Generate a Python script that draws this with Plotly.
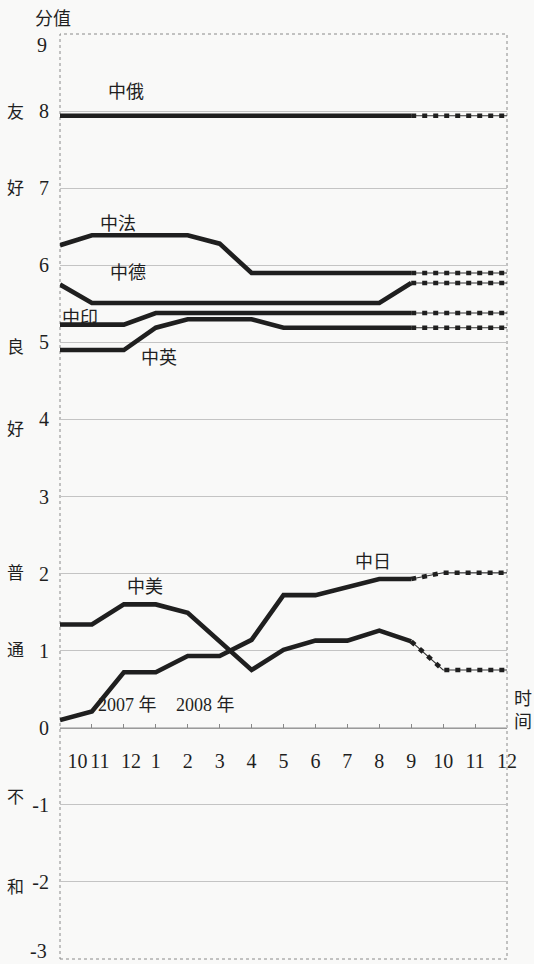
import plotly.graph_objects as go

# ---- data ----
month_labels = ["10", "11", "12", "1", "2", "3", "4", "5", "6", "7", "8", "9", "10", "11", "12"]
month_label_pos = [0.55, 1.25, 2.22, 3, 4, 5, 6, 7, 8, 9, 10, 11, 12, 13, 14]
months_x = list(range(15))
split = 11  # last observed month (2008-9); later months are projected (dashed)

sino_russia = [7.94, 7.94, 7.94, 7.94, 7.94, 7.94, 7.94, 7.94, 7.94, 7.94, 7.94, 7.94, 7.94, 7.94, 7.94]
sino_france = [6.26, 6.39, 6.39, 6.39, 6.39, 6.28, 5.90, 5.90, 5.90, 5.90, 5.90, 5.90, 5.90, 5.90, 5.90]
sino_germany = [5.75, 5.51, 5.51, 5.51, 5.51, 5.51, 5.51, 5.51, 5.51, 5.51, 5.51, 5.77, 5.77, 5.77, 5.77]
sino_india = [5.23, 5.23, 5.23, 5.38, 5.38, 5.38, 5.38, 5.38, 5.38, 5.38, 5.38, 5.38, 5.38, 5.38, 5.38]
sino_uk = [4.90, 4.90, 4.90, 5.19, 5.30, 5.30, 5.30, 5.19, 5.19, 5.19, 5.19, 5.19, 5.19, 5.19, 5.19]
sino_us = [1.34, 1.34, 1.60, 1.60, 1.49, 1.12, 0.75, 1.01, 1.13, 1.13, 1.26, 1.12, 0.75, 0.75, 0.75]
sino_japan = [0.10, 0.21, 0.72, 0.72, 0.93, 0.93, 1.14, 1.72, 1.72, 1.82, 1.93, 1.93, 2.01, 2.01, 2.01]

series = [
    ("中俄", sino_russia),
    ("中法", sino_france),
    ("中德", sino_germany),
    ("中印", sino_india),
    ("中英", sino_uk),
    ("中美", sino_us),
    ("中日", sino_japan),
]

# series label positions (x index, value)
series_labels = [
    ("中俄", 2.08, 8.25),
    ("中法", 1.81, 6.53),
    ("中德", 2.13, 5.90),
    ("中印", 0.62, 5.31),
    ("中英", 3.09, 4.80),
    ("中美", 2.67, 1.83),
    ("中日", 9.8, 2.15),
]
year_labels = [("2007 年", 2.1, 0.29), ("2008 年", 4.55, 0.29)]

y_ticks = [8, 7, 6, 5, 4, 3, 2, 1, 0, -1, -2]
y_tick_text = ["8", "7", "6", "5", "4", "3", "2", "1", "0", "-1", "-2"]
y_top_label = "9"
y_bottom_label = "-3"
side_labels = [("友", 7.98), ("好", 7.0), ("良", 4.93), ("好", 3.87),
               ("普", 2.0), ("通", 1.0), ("不", -0.9), ("和", -2.07)]

# ---- figure ----
INK = "#1f1f1f"
FONT = "Liberation Serif, Noto Sans CJK SC, serif"
BG = "#f9f9f8"

fig = go.Figure()
for name, vals in series:
    fig.add_trace(go.Scatter(
        x=months_x[:split + 1], y=vals[:split + 1], mode="lines",
        line=dict(color=INK, width=4.6), name=name, showlegend=False,
        hoverinfo="skip"))
    fig.add_trace(go.Scatter(
        x=months_x[split:], y=vals[split:], mode="lines",
        line=dict(color="#333333", width=1.1), showlegend=False,
        hoverinfo="skip"))
    fig.add_trace(go.Scatter(
        x=months_x[split:], y=vals[split:], mode="lines",
        line=dict(color=INK, width=4.6, dash="5px,6px"), showlegend=False,
        hoverinfo="skip"))

# tick marks along the zero line (second x axis, no labels)
fig.add_trace(go.Scatter(x=[0, 14], y=[None, None], xaxis="x2", yaxis="y",
                         showlegend=False, hoverinfo="skip"))

annotations = []
for text, xi, yv in series_labels + year_labels:
    annotations.append(dict(x=xi, y=yv, xref="x", yref="y", text=text,
                            xanchor="center", yanchor="middle",
                            showarrow=False, font=dict(family=FONT, size=18, color=INK)))
for text, yv in side_labels:
    annotations.append(dict(x=-0.1, y=yv, xref="paper", yref="y", text=text,
                            xanchor="center", yanchor="middle",
                            showarrow=False, font=dict(family=FONT, size=17, color=INK)))
annotations.append(dict(x=-0.016, y=1.0, xref="paper", yref="paper", text="分值",
                        xanchor="center", yanchor="bottom", yshift=3,
                        showarrow=False, font=dict(family=FONT, size=18, color=INK)))
annotations.append(dict(x=-0.025, y=1.0, xref="paper", yref="paper", text=y_top_label,
                        xanchor="right", yanchor="top", yshift=2,
                        showarrow=False, font=dict(family=FONT, size=20, color=INK)))
annotations.append(dict(x=-0.025, y=0.0, xref="paper", yref="paper", text=y_bottom_label,
                        xanchor="right", yanchor="bottom", yshift=-5,
                        showarrow=False, font=dict(family=FONT, size=20, color=INK)))
annotations.append(dict(x=1.035, y=0.23, xref="paper", yref="y", text="时<br>间",
                        xanchor="center", yanchor="middle",
                        showarrow=False, font=dict(family=FONT, size=18, color=INK)))

fig.update_layout(
    width=534, height=964,
    margin=dict(l=60, r=27, t=34, b=5, autoexpand=False),
    paper_bgcolor=BG, plot_bgcolor=BG,
    showlegend=False,
    annotations=annotations,
    xaxis=dict(range=[0, 14], anchor="free", position=0.25, automargin=False,
               tickmode="array", tickvals=month_label_pos, ticktext=month_labels,
               ticks="", showgrid=False, zeroline=False,
               showline=True, linecolor="#9a9a9a", linewidth=1,
               ticklabelstandoff=15,
               tickfont=dict(family=FONT, size=20, color=INK)),
    xaxis2=dict(range=[0, 14], overlaying="x", anchor="free", position=0.25,
                automargin=False,
                tickmode="linear", tick0=0, dtick=1, ticks="inside", ticklen=4,
                tickcolor="#888888", showticklabels=False, showgrid=False,
                zeroline=False, showline=False, side="bottom"),
    yaxis=dict(range=[-3, 9], tickmode="array", tickvals=y_ticks, ticktext=y_tick_text,
               automargin=False,
               ticks="", showgrid=True, gridcolor="#c4c4c4", gridwidth=1,
               zeroline=False, showline=False, ticklabelstandoff=10,
               ticklabeloverflow="allow",
               tickfont=dict(family=FONT, size=20, color=INK)),
    shapes=[dict(type="rect", xref="paper", yref="paper", x0=0, x1=1, y0=0, y1=1,
                 line=dict(color="#8a8a8a", width=1, dash="dot"), layer="below")],
)

fig.write_html("out.html", config={"displayModeBar": False},
               post_script="document.body.style.margin='0';document.body.style.background='%s';" % BG)
